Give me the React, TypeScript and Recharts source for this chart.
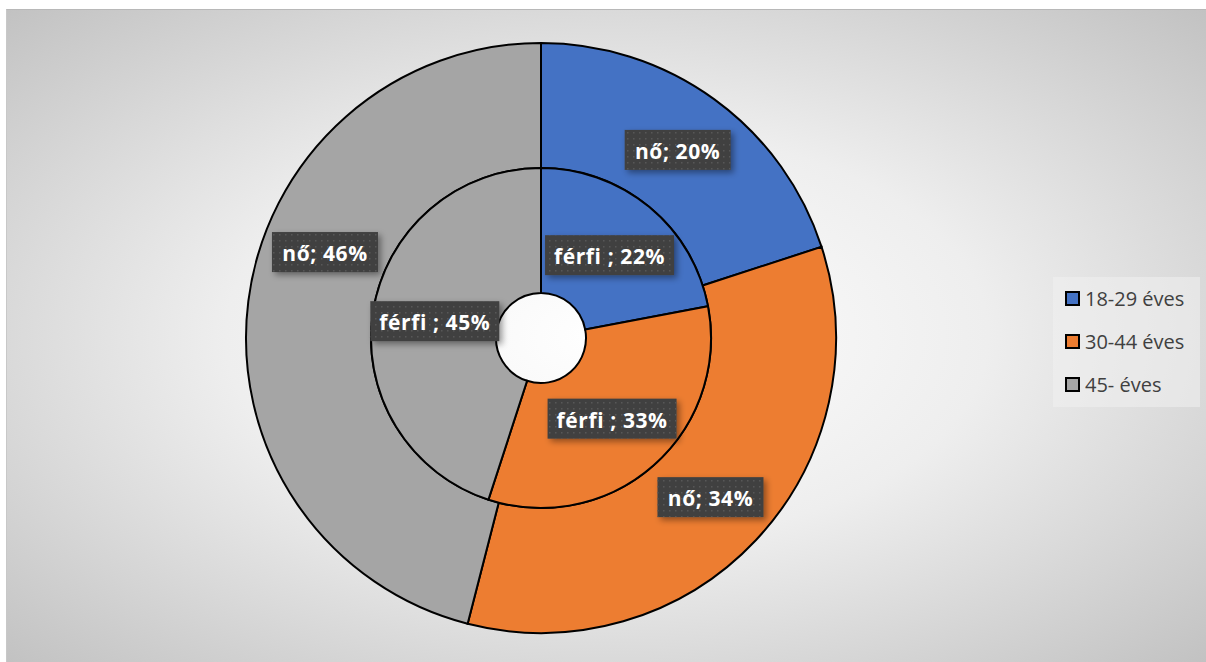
import { PieChart, Pie, Cell, Legend } from 'recharts';

const ageGroups = ['18-29 éves', '30-44 éves', '45- éves'];
const ferfiShare = [22, 33, 45];
const noShare = [20, 34, 46];
const seriesNames = ['férfi ', 'nő'];
const colors = ['#4472C4', '#ED7D31', '#A5A5A5'];

const RAD = Math.PI / 180;

const innerData = ageGroups.map((name, i) => ({ name, value: ferfiShare[i] }));
const outerData = ageGroups.map((name, i) => ({ name, value: noShare[i] }));

// angleNudge: the label of one slice was dragged a bit in the original
function makeLabel(series: string, boxWidth: number, angleNudge: number[] = []) {
  return (props: any) => {
    const { cx, cy, midAngle, innerRadius, outerRadius, value, index } = props;
    const r = (innerRadius + outerRadius) / 2;
    const a = midAngle - (angleNudge[index] || 0);
    const x = cx + r * Math.cos(-a * RAD);
    const y = cy + r * Math.sin(-a * RAD);
    const h = 40;
    return (
      <g>
        <rect x={x - boxWidth / 2} y={y - h / 2} width={boxWidth} height={h} fill="#404040" filter="url(#lblShadow)" />
        <rect x={x - boxWidth / 2} y={y - h / 2} width={boxWidth} height={h} fill="url(#dots)" />
        <text
          x={x}
          y={y + 1}
          textAnchor="middle"
          dominantBaseline="central"
          fill="#ffffff"
          fontFamily="'Open Sans', sans-serif"
          fontWeight={700}
          fontSize={21}
          letterSpacing={0.6}
        >
          {`${series}; ${value}%`}
        </text>
      </g>
    );
  };
}

function LegendBox() {
  return (
    <div style={{ width: 147, height: 130, background: 'rgba(240,240,240,0.55)', boxSizing: 'border-box', paddingTop: 0 }}>
      {ageGroups.map((g, i) => (
        <div key={g} style={{ display: 'flex', alignItems: 'center', height: 43, paddingLeft: 12 }}>
          <span style={{ width: 11, height: 11, border: '2px solid #000', background: colors[i], marginRight: 5, display: 'inline-block' }} />
          <span style={{ fontFamily: "'Open Sans', sans-serif", fontSize: 20, color: '#404040' }}>{g}</span>
        </div>
      ))}
    </div>
  );
}

export default function App() {
  return (
    <div
      style={{
        position: 'absolute',
        left: 6,
        top: 9,
        width: 1200,
        height: 653,
        borderTop: '1px solid #b8b8b8',
        borderLeft: '1px solid #c8c8c8',
        boxSizing: 'border-box',
        background: 'radial-gradient(ellipse farthest-corner at 50% 50%, #ffffff 0%, #eeeeee 45%, #c2c2c2 100%)',
      }}
    >
      <PieChart width={1198} height={652} margin={{ top: 0, right: 0, bottom: 0, left: 0 }}>
        <defs>
          <pattern id="dots" width="6" height="6" patternUnits="userSpaceOnUse">
            <rect x="2" y="2" width="1.5" height="1.5" fill="#575757" />
          </pattern>
          <filter id="lblShadow" x="-20%" y="-20%" width="150%" height="160%">
            <feDropShadow dx="3" dy="3" stdDeviation="3" floodColor="#000" floodOpacity="0.4" />
          </filter>
        </defs>
        <Pie
          data={outerData}
          dataKey="value"
          cx={534}
          cy={328}
          innerRadius={170}
          outerRadius={295}
          startAngle={90}
          endAngle={-270}
          stroke="#000"
          strokeWidth={2}
          isAnimationActive={false}
          labelLine={false}
          label={makeLabel(seriesNames[1], 106, [0, 0, 14.5])}
        >
          {outerData.map((d, i) => (
            <Cell key={d.name} fill={colors[i]} />
          ))}
        </Pie>
        <Pie
          data={innerData}
          dataKey="value"
          cx={534}
          cy={328}
          innerRadius={45}
          outerRadius={170}
          startAngle={90}
          endAngle={-270}
          stroke="#000"
          strokeWidth={2}
          isAnimationActive={false}
          labelLine={false}
          label={makeLabel(seriesNames[0], 129)}
        >
          {innerData.map((d, i) => (
            <Cell key={d.name} fill={colors[i]} />
          ))}
        </Pie>
        <Legend
          layout="vertical"
          content={() => <LegendBox />}
          wrapperStyle={{ position: 'absolute', left: 1046, top: 267, width: 147, height: 130 }}
        />
      </PieChart>
    </div>
  );
}
